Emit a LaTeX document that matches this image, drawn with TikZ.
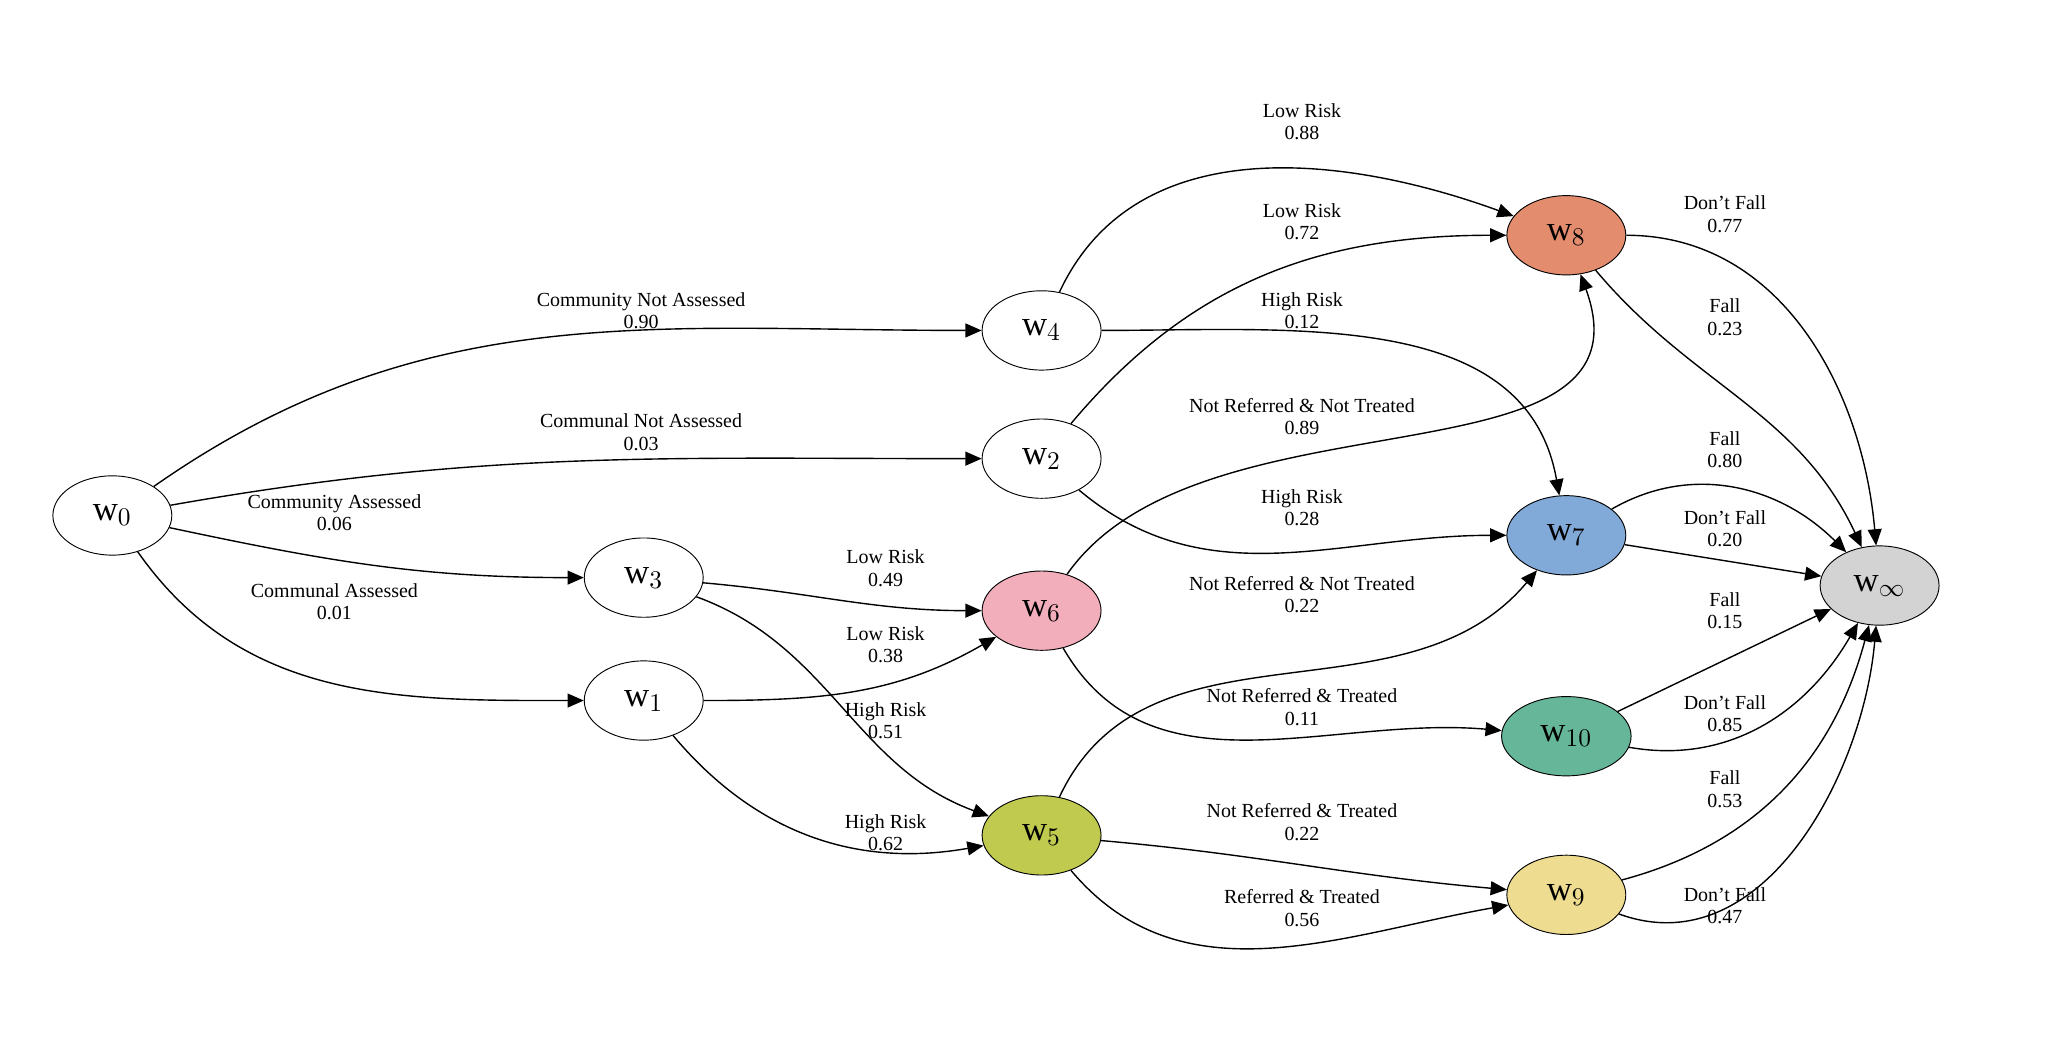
\documentclass[tikz,border=0pt]{standalone}
\usepackage{fontspec}
\setmainfont{Liberation Serif}
\usetikzlibrary{arrows.meta,shapes.geometric}
\tikzset{
  st/.style={ellipse, draw, minimum width=1.8cm, minimum height=1.2cm, inner sep=0pt, font=\fontsize{15}{15}\selectfont},
  lbl/.style={align=center, font=\fontsize{8.6}{9.6}\selectfont, inner sep=0pt},
  ed/.style={-{Triangle[length=7pt,width=6pt]}, semithick},
}
\definecolor{cEight}{HTML}{E38C6E}
\definecolor{cSeven}{HTML}{82AAD8}
\definecolor{cSix}{HTML}{F2AEBB}
\definecolor{cFive}{HTML}{BFCA4F}
\definecolor{cTen}{HTML}{66B79A}
\definecolor{cNine}{HTML}{EEDC91}
\definecolor{cInf}{HTML}{D3D3D3}
\begin{document}
\begin{tikzpicture}[x=0.02cm,y=0.02cm]
  \useasboundingbox (0,0) rectangle (1560,787);
  % states
  \node[st] (w0) at (85,397) {w$_0$};
  \node[st] (w4) at (788,537) {w$_4$};
  \node[st] (w2) at (788,440) {w$_2$};
  \node[st] (w3) at (487,350) {w$_3$};
  \node[st] (w1) at (487,257) {w$_1$};
  \node[st, fill=cSix] (w6) at (788,325) {w$_6$};
  \node[st, fill=cFive] (w5) at (788,155) {w$_5$};
  \node[st, fill=cEight] (w8) at (1185,609) {w$_8$};
  \node[st, fill=cSeven] (w7) at (1185,382) {w$_7$};
  \node[st, fill=cTen, minimum width=1.96cm] (w10) at (1185,230) {w$_{10}$};
  \node[st, fill=cNine] (w9) at (1185,110) {w$_9$};
  \node[st, fill=cInf] (wi) at (1422,344) {w$_\infty$};
  % transitions
  \draw[ed] (w0) to[out=35,in=180] (w4);
  \draw[ed] (w0) to[out=10,in=180] (w2);
  \draw[ed] (w0) to[out=-12,in=180] (w3);
  \draw[ed] (w0) to[out=-55,in=180] (w1);
  \draw[ed] (w4) to[out=65,in=160] (w8);
  \draw[ed] (w2) to[out=50,in=180] (w8);
  \draw[ed] (w4) to[out=0,in=100] (w7);
  \draw[ed] (w2) to[out=-40,in=180] (w7);
  \draw[ed] (w3) to[out=-5,in=180] (w6);
  \draw[ed] (w3) to[out=-20,in=160] (w5);
  \draw[ed] (w1) to[out=0,in=210] (w6);
  \draw[ed] (w1) to[out=-50,in=190] (w5);
  \draw[ed] (w6) to[out=55,in=-70] (w8);
  \draw[ed] (w6) to[out=-60,in=175] (w10);
  \draw[ed] (w5) to[out=65,in=-130] (w7);
  \draw[ed] (w5) to[out=-5,in=175] (w9);
  \draw[ed] (w5) to[out=-50,in=190] (w9);
  \draw[ed] (w8) to[out=0,in=95] (wi);
  \draw[ed] (w8) to[out=-50,in=115] (wi);
  \draw[ed] (w7) to[out=30,in=135] (wi);
  \draw[ed] (w7) -- (wi);
  \draw[ed] (w10) -- (wi);
  \draw[ed] (w10) to[out=-10,in=-120] (wi);
  \draw[ed] (w9) to[out=15,in=-105] (wi);
  \draw[ed] (w9) to[out=-20,in=-95] (wi);
  % labels
  \node[lbl] (l04) at (485,552) {Community Not Assessed\\0.90};
  \node[lbl] (l02) at (485,460) {Communal Not Assessed\\0.03};
  \node[lbl] (l03) at (253,399) {Community Assessed\\0.06};
  \node[lbl] (l01) at (253,332) {Communal Assessed\\0.01};
  \node[lbl] (l48) at (985,695) {Low Risk\\0.88};
  \node[lbl] (l28) at (985,619) {Low Risk\\0.72};
  \node[lbl] (l47) at (985,552) {High Risk\\0.12};
  \node[lbl] (l27) at (985,403) {High Risk\\0.28};
  \node[lbl] (l36) at (670,357) {Low Risk\\0.49};
  \node[lbl] (l35) at (670,242) {High Risk\\0.51};
  \node[lbl] (l16) at (670,299) {Low Risk\\0.38};
  \node[lbl] (l15) at (670,157) {High Risk\\0.62};
  \node[lbl] (l68) at (985,472) {Not Referred \& Not Treated\\0.89};
  \node[lbl] (l610) at (985,252) {Not Referred \& Treated\\0.11};
  \node[lbl] (l57) at (985,337) {Not Referred \& Not Treated\\0.22};
  \node[lbl] (l59a) at (985,165) {Not Referred \& Treated\\0.22};
  \node[lbl] (l59b) at (985,100) {Referred \& Treated\\0.56};
  \node[lbl] (l8a) at (1305,625) {Don't Fall\\0.77};
  \node[lbl] (l8b) at (1305,547) {Fall\\0.23};
  \node[lbl] (l7a) at (1305,447) {Fall\\0.80};
  \node[lbl] (l7b) at (1305,387) {Don't Fall\\0.20};
  \node[lbl] (l10a) at (1305,325) {Fall\\0.15};
  \node[lbl] (l10b) at (1305,247) {Don't Fall\\0.85};
  \node[lbl] (l9a) at (1305,190) {Fall\\0.53};
  \node[lbl] (l9b) at (1305,102) {Don't Fall\\0.47};
\end{tikzpicture}
\end{document}
